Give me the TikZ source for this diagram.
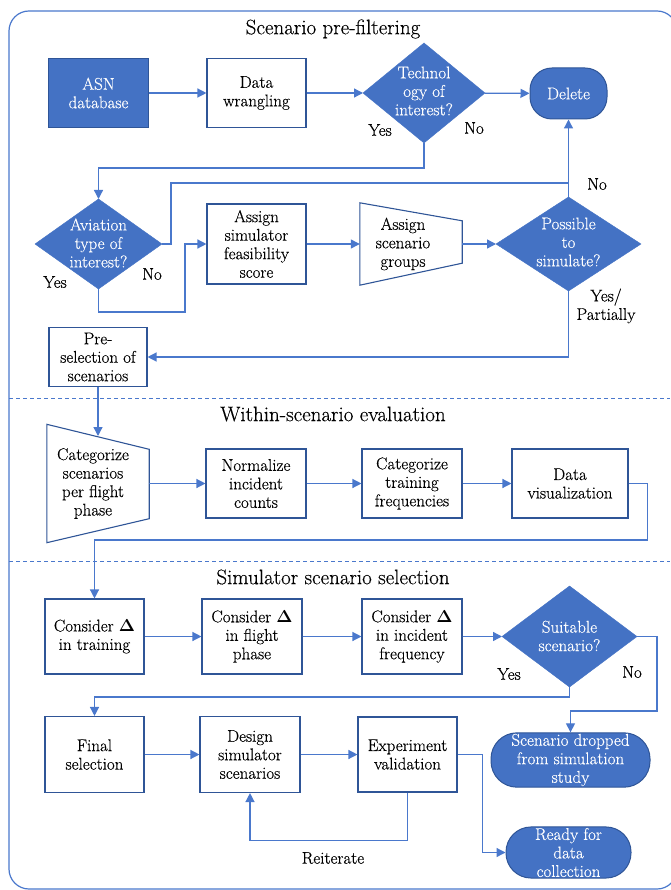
\documentclass[tikz,border=0pt]{standalone}
\usepackage{fontspec}
\setmainfont{Latin Modern Roman}[FakeBold=0.35]
\usetikzlibrary{shapes.geometric,arrows.meta,calc}
\definecolor{fillblue}{HTML}{4472C4}
\definecolor{lineblue}{HTML}{4A78CC}
\definecolor{borderblue}{HTML}{2F5597}
\newcommand{\fsz}{\fontsize{17}{18.5}\selectfont}
\newcommand{\dlt}{{\boldmath$\Delta$}}
\begin{document}
\begin{tikzpicture}[x=1pt,y=-1pt,
  conn/.style={draw=lineblue, line width=1.3pt, -{Triangle[length=9pt,width=9pt]}},
  plain/.style={draw=lineblue, line width=1.3pt},
  box/.style={draw=borderblue, line width=1.1pt, fill=white, align=center, font=\fsz, inner sep=1pt},
  filled/.style={box, fill=fillblue, draw=borderblue, text=white},
  term/.style={fill=fillblue, draw=borderblue, line width=1pt, rounded corners=22pt, text=white, align=center, font=\fsz, inner sep=1pt},
  dec/.style={diamond, fill=fillblue, draw=fillblue, inner sep=0pt, outer sep=0pt},
  dectext/.style={font=\fsz, text=white, align=center, inner sep=0pt},
  lbl/.style={font=\fsz, inner sep=0pt},
  ttl/.style={font=\fontsize{21}{24}\selectfont, inner sep=0pt},
  sep/.style={draw=lineblue, line width=1pt, dash pattern=on 4pt off 3pt}
]
\useasboundingbox (0,0) rectangle (670,890);
\draw[lineblue, line width=1.2pt, rounded corners=20pt] (9,11) rectangle (677,889);

% titles
\node[ttl] (t1) at (333,29) {Scenario pre-filtering};
\node[ttl] (t2) at (333,414) {Within-scenario evaluation};
\node[ttl] (t3) at (333,577) {Simulator scenario selection};
\draw[sep] (9,398) -- (670,398);
\draw[sep] (9,561) -- (670,561);

% section 1
\node[filled, minimum width=100pt, minimum height=69pt] (asn) at (98.5,93) {ASN\\database};
\node[box, minimum width=99pt, minimum height=69pt] (wr) at (256.5,93) {Data\\wrangling};
\node[dec, minimum width=122pt, minimum height=100pt] (tech) at (424,93) {};
\node[dectext] (techt) at (424,91) {Technol\\ogy of\\interest?};
\node[term, minimum width=77pt, minimum height=51pt] (del) at (568.5,93.5) {Delete};

\node[dec, minimum width=127pt, minimum height=90pt] (av) at (98.5,244) {};
\node[dectext] (avt) at (98.5,243) {Aviation\\type of\\interest?};
\node[box, minimum width=99pt, minimum height=80pt] (asf) at (256.5,244) {Assign\\simulator\\feasibility\\score};
\node[minimum width=102pt, minimum height=82pt, inner sep=0pt, font=\fsz, align=center] (asg) at (411,244) {};
\draw[borderblue, line width=1.1pt] (asg.north west) -- ($(asg.north east)+(0,18)$) -- ($(asg.south east)+(0,-22)$) -- (asg.south west) -- cycle;
\node[font=\fsz, align=center, inner sep=0pt] (asgt) at (403,244) {Assign\\scenario\\groups};
\node[dec, minimum width=145pt, minimum height=94pt] (poss) at (568.5,244) {};
\node[dectext] (posst) at (568.5,242) {Possible\\to\\simulate?};

\node[box, minimum width=98pt, minimum height=59pt] (pre) at (98,357) {Pre-\\selection of\\scenarios};

% labels section 1
\node[lbl] (y1) at (380,130) {Yes};
\node[lbl] (n1) at (474,128) {No};
\node[lbl] (y2) at (55,282) {Yes};
\node[lbl] (n2) at (152,274) {No};
\node[lbl] (n3) at (597,184) {No};
\node[lbl, align=center] (y3) at (606,306) {Yes/\\Partially};

% section 2
\node[minimum width=102pt, minimum height=118pt, inner sep=0pt] (cat) at (98,483.5) {};
\draw[borderblue, line width=1.1pt] (cat.north west) -- ($(cat.north east)+(0,25)$) -- ($(cat.south east)+(0,-24)$) -- (cat.south west) -- cycle;
\node[font=\fsz, align=center, inner sep=0pt] (catt) at (93,483.5) {Categorize\\scenarios\\per flight\\phase};
\coordinate (cattop) at (98,436);
\node[box, minimum width=100pt, minimum height=69pt] (norm) at (256,483.5) {Normalize\\incident\\counts};
\node[box, minimum width=100pt, minimum height=69pt] (ctf) at (412,483.5) {Categorize\\training\\frequencies};
\node[box, minimum width=116pt, minimum height=69pt] (dv) at (570,483.5) {Data\\visualization};

% section 3
\node[box, minimum width=99pt, minimum height=75pt] (ct) at (94.5,636.5) {Consider \dlt\\in training};
\node[box, minimum width=100pt, minimum height=75pt] (cf) at (252,636.5) {Consider \dlt\\in flight\\phase};
\node[box, minimum width=100pt, minimum height=75pt] (ci) at (412,636.5) {Consider \dlt\\in incident\\frequency};
\node[dec, minimum width=135pt, minimum height=101pt] (suit) at (569.5,636.5) {};
\node[dectext] (suitt) at (569.5,636) {Suitable\\scenario?};
\node[lbl] (y4) at (509,674) {Yes};
\node[lbl] (n4) at (632,672) {No};

\node[box, minimum width=99pt, minimum height=76pt] (fs) at (94.5,754.5) {Final\\selection};
\node[box, minimum width=100pt, minimum height=76pt] (dss) at (250,754.5) {Design\\simulator\\scenarios};
\node[box, minimum width=99pt, minimum height=75pt] (ev) at (407.5,754.5) {Experiment\\validation};
\node[term, minimum width=159pt, minimum height=52pt, rounded corners=26pt] (drop) at (570.5,760) {Scenario dropped\\from simulation\\study};
\node[term, minimum width=125pt, minimum height=51pt, rounded corners=25pt] (ready) at (568.5,852.5) {Ready for\\data\\collection};
\node[lbl] (reit) at (333,858) {Reiterate};

% connectors section 1
\draw[conn] (asn) -- (wr);
\draw[conn] (wr) -- (tech);
\draw[conn] (tech) -- (del);
\coordinate (j0) at (424,168);
\draw[conn] (tech.south) -- (j0) -| (av.north);
\coordinate (j1) at (568.5,183);
\draw[plain] (av.east) -- (171,244) -- (171,183) -- (j1);
\draw[conn] (poss.north) -- (del.south);
\coordinate (j5) at (185,312);
\draw[conn] (av.south) |- (j5) |- (asf.west);
\draw[conn] (asf.east) -- (asg.west);
\draw[conn] (asg.east) -- (poss.west);
\draw[conn] (poss.south) |- (pre.east);
\draw[conn] (pre.south) -- (cattop);

% connectors section 2
\draw[conn] (cat.east) -- (norm.west);
\draw[conn] (norm) -- (ctf);
\draw[conn] (ctf) -- (dv);
\coordinate (j2) at (94.5,540);
\draw[conn] (dv.east) -- ++(19,0) |- (j2) -- (ct.north);

% connectors section 3
\draw[conn] (ct) -- (cf);
\draw[conn] (cf) -- (ci);
\draw[conn] (ci.east) -- (suit.west);
\coordinate (j3) at (94.5,697);
\draw[conn] (suit.south) |- (j3) -- (fs.north);
\coordinate (j4) at (570.5,711);
\draw[conn] (suit.east) -- ++(20,0) |- (j4) -- (drop.north);
\draw[conn] (fs) -- (dss);
\draw[conn] (dss.east) -- (dss.east -| ev.west);
\draw[conn] (ev.east) -- ++(25,0) |- (ready.west);
\draw[conn] (ev.south) -- ++(0,48) -| (dss.south);
\end{tikzpicture}
\end{document}
